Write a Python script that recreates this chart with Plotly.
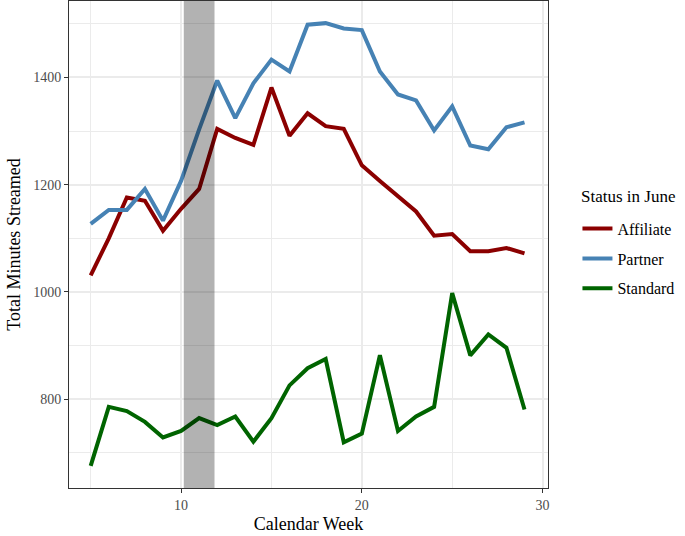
import plotly.graph_objects as go

weeks = list(range(5, 30))
affiliate = [1031, 1100, 1176, 1170, 1114, 1155, 1192, 1304, 1287, 1274, 1381, 1291, 1333,
             1309, 1304, 1236, 1207, 1179, 1150, 1105, 1108, 1076, 1076, 1082, 1072]
partner = [1127, 1153, 1153, 1192, 1133, 1207, 1303, 1394, 1324, 1389, 1433, 1411, 1498,
           1501, 1491, 1488, 1411, 1368, 1357, 1301, 1346, 1273, 1266, 1307, 1316]
standard = [676, 786, 778, 758, 729, 741, 765, 752, 768, 721, 765, 826, 858,
            875, 720, 736, 882, 741, 768, 786, 998, 882, 921, 896, 781]
series_names = ["Affiliate", "Partner", "Standard"]
series_colors = ["#8B0000", "#4682B4", "#006400"]
highlight_weeks = [10.15, 11.85]
x_ticks = [10, 20, 30]
y_ticks = [800, 1000, 1200, 1400]
legend_title = "Status in June"

FONT = "Liberation Serif"

fig = go.Figure()
for name, vals, col in zip(series_names, [affiliate, partner, standard], series_colors):
    fig.add_trace(go.Scatter(x=weeks, y=vals, mode="lines", name=name, legendgroup=name,
                             line=dict(color=col, width=4)))

fig.add_shape(type="rect", xref="x", yref="y domain", x0=highlight_weeks[0], x1=highlight_weeks[1],
              y0=0, y1=1, fillcolor="rgba(0,0,0,0.3)", line=dict(width=0), layer="above")

fig.add_annotation(text=legend_title, xref="paper", yref="paper",
                   x=(579 - 69) / 479, y=(488 - 196) / 487, xanchor="left", yanchor="middle",
                   showarrow=False, font=dict(size=17, family=FONT, color="black"))

allv = affiliate + partner + standard
ymin, ymax = min(allv), max(allv)
yr = ymax - ymin
xr = weeks[-1] - weeks[0]

fig.update_layout(
    width=685, height=536,
    margin=dict(l=69, r=137, t=1, b=48, autoexpand=False),
    paper_bgcolor="white", plot_bgcolor="white",
    font=dict(family=FONT, color="black"),
    legend=dict(
        font=dict(size=16, family=FONT, color="black"),
        xref="container", yref="container", x=0.843, y=0.605,
        xanchor="left", yanchor="top", tracegroupgap=6,
        bgcolor="rgba(0,0,0,0)",
    ),
    xaxis=dict(
        range=[weeks[0] - 0.05 * xr, weeks[-1] + 0.05 * xr + 0.1],
        tickvals=x_ticks, ticks="outside", ticklen=4, tickcolor="#333333",
        tickfont=dict(size=14, color="#4d4d4d", family=FONT),
        showgrid=True, gridcolor="#ebebeb", gridwidth=1.5,
        minor=dict(dtick=5, tick0=0, showgrid=True, gridcolor="#ebebeb", gridwidth=1),
        showline=True, linecolor="#333333", linewidth=1, mirror=True, zeroline=False,
        automargin=False,
        title=dict(text="Calendar Week", font=dict(size=18, family=FONT, color="black"), standoff=5),
    ),
    yaxis=dict(
        range=[ymin - 0.05 * yr, ymax + 0.05 * yr],
        tickvals=y_ticks, ticks="outside", ticklen=4, tickcolor="#333333",
        tickfont=dict(size=14, color="#4d4d4d", family=FONT),
        showgrid=True, gridcolor="#ebebeb", gridwidth=1.5,
        minor=dict(dtick=100, tick0=0, showgrid=True, gridcolor="#ebebeb", gridwidth=1),
        showline=True, linecolor="#333333", linewidth=1, mirror=True, zeroline=False,
        automargin=False,
        title=dict(text="Total Minutes Streamed", font=dict(size=18, family=FONT, color="black"), standoff=7),
    ),
)

fig.write_html("out.html", config={"displayModeBar": False},
               post_script="document.body.style.margin='0';document.body.style.padding='0';")
